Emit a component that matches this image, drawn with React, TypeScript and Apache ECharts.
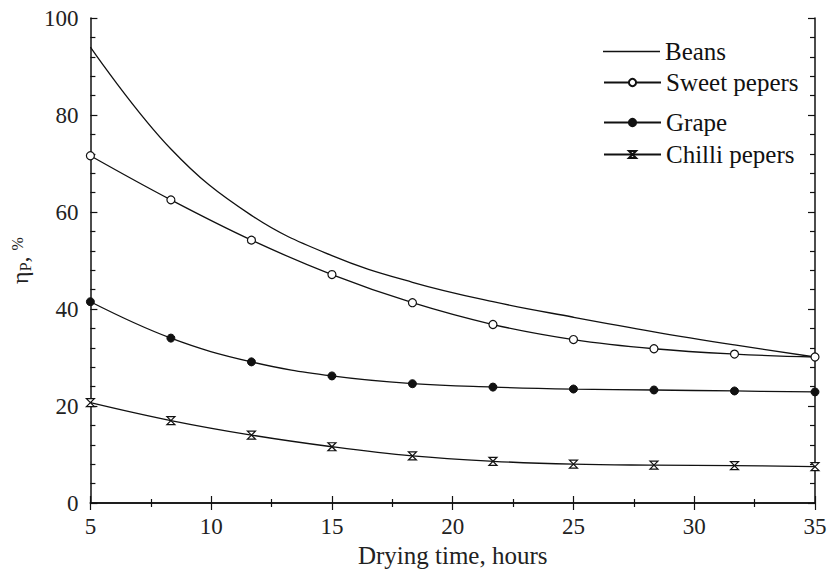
import React, { useEffect, useRef } from "react";
import * as echarts from "echarts";

const xHours = [5, 8.333, 11.667, 15, 18.333, 21.667, 25, 28.333, 31.667, 35];
const beans = [94, 73, 59.3, 51, 45.5, 41.5, 38.3, 35.3, 32.6, 30.1];
const sweetPepers = [71.6, 62.5, 54.2, 47.1, 41.3, 36.8, 33.7, 31.8, 30.7, 30.1];
const grape = [41.5, 34, 29.1, 26.2, 24.6, 23.9, 23.5, 23.3, 23.1, 22.9];
const chilliPepers = [20.7, 17, 14, 11.6, 9.7, 8.6, 8.0, 7.8, 7.7, 7.5];
const seriesNames = ["Beans", "Sweet pepers", "Grape", "Chilli pepers"];

const FONT = "Liberation Serif, Times New Roman, serif";
const HOURGLASS = "path://M0,0 L10,0 L0,10 L10,10 Z";

function pairs(ys: number[]) {
  return xHours.map((x, i) => [x, ys[i]]);
}

export default function App() {
  const ref = useRef<HTMLDivElement>(null);
  useEffect(() => {
    if (!ref.current) return;
    const chart = echarts.init(ref.current, null, { renderer: "svg" });
    const axisLine = { show: true, lineStyle: { color: "#111", width: 1.5 } };
    const xCommon = {
      type: "value" as const,
      min: 5,
      max: 35,
      interval: 5,
      axisLine,
      axisTick: { inside: true, length: 7, lineStyle: { color: "#111", width: 1.2 } },
      minorTick: { show: true, splitNumber: 2, length: 4, lineStyle: { color: "#111", width: 1.2 } },
      splitLine: { show: false },
    };
    const yCommon = {
      type: "value" as const,
      min: 0,
      max: 100,
      interval: 20,
      axisLine,
      axisTick: { inside: true, length: 7, lineStyle: { color: "#111", width: 1.2 } },
      minorTick: { show: true, splitNumber: 5, length: 5, lineStyle: { color: "#111", width: 1.2 } },
      splitLine: { show: false },
    };
    const legendTops = [39, 70, 110, 142];
    const lineStyle = { color: "#111", width: 1.3 };
    chart.setOption({
      animation: false,
      backgroundColor: "#fff",
      grid: { left: 81, right: 15, top: 18, bottom: 70 },
      xAxis: [
        {
          ...xCommon,
          position: "bottom",
          name: "Drying time, hours",
          nameLocation: "middle",
          nameGap: 40,
          nameTextStyle: { fontFamily: FONT, fontSize: 25, color: "#222" },
          axisLabel: { fontFamily: FONT, fontSize: 23, color: "#222", margin: 12 },
        },
        { ...xCommon, position: "top", axisLabel: { show: false } },
      ],
      yAxis: [
        {
          ...yCommon,
          position: "left",
          name: "{a|η}{b|P}{a|, }{c|%}",
          nameLocation: "middle",
          nameGap: 50,
          nameRotate: 90,
          nameTextStyle: {
            rich: {
              a: { fontFamily: FONT, fontSize: 24, color: "#222" },
              b: { fontFamily: FONT, fontSize: 16, color: "#222", padding: [10, 0, 0, 0] },
              c: { fontFamily: FONT, fontSize: 16, color: "#222", padding: [0, 0, 6, 0] },
            },
          },
          axisLabel: { fontFamily: FONT, fontSize: 23, color: "#222", margin: 12 },
        },
        { ...yCommon, position: "right", axisLabel: { show: false } },
      ],
      legend: seriesNames.map((n, i) => ({
        data: [i === 0 ? { name: n, icon: "rect", itemStyle: { color: "#111" } } : n],
        left: 603,
        top: legendTops[i],
        orient: "vertical",
        itemWidth: 57,
        itemHeight: i === 0 ? 1.3 : 9,
        itemGap: 0,
        padding: 0,
        textStyle: { fontFamily: FONT, fontSize: 25, color: "#111", padding: [0, 0, 0, 0] },
      })),
      series: [
        {
          name: seriesNames[0],
          type: "line",
          data: pairs(beans),
          smooth: 0.4,
          symbol: "none",
          lineStyle,
          itemStyle: { color: "#111" },
        },
        {
          name: seriesNames[1],
          type: "line",
          data: pairs(sweetPepers),
          smooth: 0.4,
          symbol: "circle",
          symbolSize: 8,
          lineStyle,
          itemStyle: { color: "#fff", borderColor: "#111", borderWidth: 1.2 },
        },
        {
          name: seriesNames[2],
          type: "line",
          data: pairs(grape),
          smooth: 0.4,
          symbol: "circle",
          symbolSize: 8,
          lineStyle,
          itemStyle: { color: "#111", borderColor: "#111", borderWidth: 1 },
        },
        {
          name: seriesNames[3],
          type: "line",
          data: pairs(chilliPepers),
          smooth: 0.4,
          symbol: HOURGLASS,
          symbolSize: [8, 8],
          lineStyle,
          itemStyle: { color: "#fff", borderColor: "#111", borderWidth: 1.2 },
        },
      ],
    });
    return () => chart.dispose();
  }, []);
  return <div ref={ref} style={{ width: 830, height: 573, position: "absolute", left: 0, top: 0 }} />;
}
